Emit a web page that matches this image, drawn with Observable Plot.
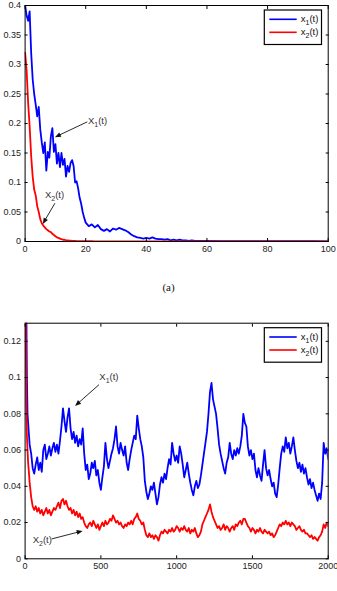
<!DOCTYPE html>
<html><head><meta charset="utf-8">
<script src="https://cdn.jsdelivr.net/npm/d3@7"></script>
<script src="https://cdn.jsdelivr.net/npm/@observablehq/plot@0.6"></script>
<style>
body{margin:0;background:#fff;width:337px;overflow:hidden}
.cap{font:11px "Liberation Serif","Times New Roman",serif;height:50px;line-height:50px;text-align:center;color:#111}
svg{display:block}
</style></head><body>
<div id="a"></div><div class="cap">(a)</div><div id="b"></div>
<script>
// ---- panel 1: t in [0, 100] ----
const tA = [
  0,0.5,1,1.5,2,2.5,3,3.5,4,4.5,5,5.5,6,6.5,7,7.5,8,8.5,9,9.5,
  10,10.5,11,11.5,12,12.5,13,13.5,14,14.5,15,15.5,16,16.5,17,17.5,18,18.5,19,19.5,
  20,21,22,23,24,25,26,27,28,29,30,31,32,33,34,35,36,37,38,39,
  40,41,42,43,44,45,46,47,48,49,50,51,52,53,54,55,56,57,58,59,
  60,65,70,75,80,85,90,95,100
];
const x1A = [
  .400,.383,.374,.390,.320,.275,.250,.232,.212,.228,.190,.168,.150,.168,.120,.152,.142,.178,.192,.152,
  .165,.132,.150,.126,.150,.130,.140,.110,.128,.118,.133,.138,.128,.100,.102,.090,.074,.064,.050,.040,
  .032,.026,.029,.024,.028,.021,.018,.021,.017,.022,.020,.023,.021,.019,.016,.012,.009,.007,.006,.005,
  .006,.005,.007,.005,.004,.004,.003,.004,.002,.003,.002,.003,.002,.002,.001,.002,.001,.001,.001,.001,
  .001,.0008,.0007,.0006,.0005,.0005,.0004,.0004,.0003
];
const x2A = [
  .320,.290,.235,.195,.145,.110,.088,.078,.060,.050,.038,.031,.027,.024,.021,.019,.017,.016,.013,.011,
  .009,.007,.006,.005,.004,.003,.003,.002,.002,.0015,.0015,.001,.001,.001,.0008,.0008,.0006,.0006,.0005,.0005,
  .0004,.0004,.0004,.0003,.0003,.0003,.0003,.0003,.0003,.0003,.0003,.0003,.0003,.0003,.0003,.0003,.0003,.0003,.0003,.0003,
  .0003,.0003,.0003,.0003,.0003,.0003,.0003,.0003,.0003,.0003,.0003,.0003,.0003,.0003,.0003,.0003,.0003,.0003,.0003,.0003,
  .0002,.0002,.0002,.0002,.0002,.0002,.0002,.0002,.0002
];
const xTicksA = [0, 20, 40, 60, 80, 100];
const yTicksA = [0, 0.05, 0.1, 0.15, 0.2, 0.25, 0.3, 0.35, 0.4];

// ---- panel 2: t in [0, 2000] ----
const tB = [0, 4, 8, 12, 16, 20, 25, 30, 40, 50].concat(d3.range(60, 2001, 10));
const x1B = [
  .400,.220,.140,.100,.080,.075,.069,.063,.058,.050,
  .047,.052,.056,.049,
  .053,.048,.060,.063,.055,.058,.062,.057,.061,.064,
  .059,.063,.058,.065,.073,.083,.076,.070,.078,.083,
  .072,.066,.070,.064,.068,.062,.066,.063,.072,.058,
  .049,.052,.044,.047,.053,.050,.054,.046,.049,.042,
  .038,.045,.051,.064,.055,.050,.054,.058,.061,.066,
  .073,.062,.058,.064,.060,.057,.062,.053,.049,.055,
  .060,.064,.068,.066,.079,.072,.066,.062,.056,.043,
  .037,.033,.036,.040,.038,.042,.036,.030,.034,.041,
  .045,.042,.047,.044,.050,.055,.052,.064,.058,.054,
  .057,.053,.062,.058,.052,.045,.049,.053,.047,.042,
  .038,.035,.040,.043,.039,.041,.046,.052,.058,.064,
  .070,.080,.092,.097,.088,.084,.080,.072,.063,.058,
  .054,.050,.047,.053,.056,.064,.058,.055,.060,.057,
  .061,.058,.062,.068,.080,.075,.073,.062,.057,.060,
  .055,.058,.049,.045,.050,.046,.043,.052,.060,.050,
  .046,.049,.044,.040,.042,.036,.034,.041,.050,.058,
  .062,.059,.067,.061,.064,.058,.062,.067,.060,.054,
  .050,.053,.048,.052,.047,.050,.045,.041,.044,.039,
  .042,.038,.035,.032,.036,.033,.042,.064,.058,.061,
  .055
];
const x2B = [
  .320,.130,.085,.068,.060,.053,.048,.042,.034,.029,
  .027,.029,.026,.028,
  .025,.027,.024,.026,.028,.025,.027,.024,.026,.028,
  .027,.029,.031,.028,.032,.033,.030,.032,.029,.027,
  .028,.025,.027,.024,.026,.023,.025,.022,.023,.020,
  .018,.017,.019,.020,.018,.021,.019,.017,.019,.016,
  .018,.020,.018,.021,.019,.020,.022,.021,.024,.022,
  .020,.021,.019,.020,.018,.017,.019,.018,.020,.019,
  .021,.019,.022,.023,.025,.022,.021,.019,.020,.016,
  .013,.012,.014,.012,.013,.011,.013,.012,.010,.013,
  .015,.014,.016,.015,.014,.016,.015,.017,.015,.016,
  .018,.017,.015,.017,.016,.018,.016,.015,.017,.014,
  .016,.015,.017,.014,.012,.013,.015,.019,.021,.023,
  .025,.027,.030,.026,.023,.021,.019,.017,.018,.016,
  .017,.019,.016,.018,.017,.015,.017,.018,.016,.019,
  .018,.020,.021,.019,.022,.022,.020,.018,.017,.015,
  .017,.016,.014,.016,.015,.017,.015,.014,.016,.015,
  .014,.015,.013,.014,.012,.013,.015,.017,.019,.018,
  .020,.019,.021,.019,.020,.018,.020,.019,.018,.016,
  .017,.018,.016,.015,.016,.014,.014,.013,.012,.013,
  .011,.012,.011,.010,.012,.013,.015,.019,.017,.020,
  .018
];
const xTicksB = [0, 500, 1000, 1500, 2000];
const yTicksB = [0, 0.02, 0.04, 0.06, 0.08, 0.1, 0.12];

// legend entries and curve annotations (annotation positions in data units)
const seriesNames = [["x", "1", "#0000ff"], ["x", "2", "#ff0000"]];
const notesA = [
  {sub: "1", at: [20.9, 0.198], from: [20.7, 0.202], to: [10.0, 0.176]},
  {sub: "2", at: [6.7, 0.073], from: [10.0, 0.064], to: [6.0, 0.029]}
];
const notesB = [
  {sub: "1", at: [493, 0.0985], from: [491, 0.0958], to: [333, 0.0841]},
  {sub: "2", at: [53, 0.0085], from: [179, 0.0107], to: [383, 0.0151]}
];

const fmt = d3.format("~g");

function panel({t, x1, x2, xDomain, yDomain, xTicks, yTicks, height, marginTop, marginBottom, notes}) {
  const s1 = t.map((ti, i) => ({t: ti, v: x1[i]}));
  const s2 = t.map((ti, i) => ({t: ti, v: x2[i]}));
  const plot = Plot.plot({
    width: 337, height, marginLeft: 24.6, marginRight: 9.3, marginTop, marginBottom,
    x: {domain: xDomain}, y: {domain: yDomain},
    style: {fontFamily: "'Liberation Sans', Arial, sans-serif", fontSize: "9px", color: "#222", background: "#fff", overflow: "visible"},
    marks: [
      Plot.line(s1, {x: "t", y: "v", stroke: "#0000ff", strokeWidth: 1.8, clip: true}),
      Plot.line(s2, {x: "t", y: "v", stroke: "#ff0000", strokeWidth: 1.8, clip: true}),
      Plot.axisX({ticks: xTicks, tickSize: -3, tickPadding: 7, tickFormat: fmt, label: null, stroke: "#000"}),
      Plot.axisX({ticks: xTicks, anchor: "top", tickSize: -3, tickFormat: () => "", label: null, stroke: "#000"}),
      Plot.axisY({ticks: yTicks, tickSize: -3, tickPadding: 7, tickFormat: fmt, label: null, stroke: "#000"}),
      Plot.axisY({ticks: yTicks, anchor: "right", tickSize: -3, tickFormat: () => "", label: null, stroke: "#000"}),
      Plot.frame({stroke: "#000"})
    ]
  });
  const sx = plot.scale("x"), sy = plot.scale("y");
  const svg = d3.select(plot);
  const right = 337 - 9.3, top = marginTop;

  // legend box in the upper right corner
  const bx = right - 6.2 - 57.2, by = top + 5;
  const g = svg.append("g").attr("font-family", "'Liberation Sans', Arial, sans-serif")
    .attr("text-anchor", "start").attr("fill", "#111");
  g.append("rect").attr("x", bx).attr("y", by).attr("width", 57.2).attr("height", 34.5)
    .attr("fill", "#fff").attr("stroke", "#000").attr("stroke-width", 1.2);
  seriesNames.forEach(([base, sub, color], i) => {
    const ly = by + 9.3 + i * 13;
    g.append("line").attr("x1", bx + 5).attr("x2", bx + 32.4).attr("y1", ly).attr("y2", ly)
      .attr("stroke", color).attr("stroke-width", 1.6);
    const tx = g.append("text").attr("x", bx + 36.5).attr("y", ly + 2.5).attr("font-size", 9.5);
    tx.append("tspan").text(base);
    tx.append("tspan").attr("dy", 3).attr("font-size", 7).text(sub);
    tx.append("tspan").attr("dy", -3).text("(t)");
  });

  // curve labels with arrows
  notes.forEach(n => {
    const [x0, y0] = [sx.apply(n.from[0]), sy.apply(n.from[1])];
    const [x3, y3] = [sx.apply(n.to[0]), sy.apply(n.to[1])];
    const dx = x3 - x0, dy = y3 - y0, L = Math.hypot(dx, dy), ux = dx / L, uy = dy / L;
    const hl = 6, hw = 2.4;
    g.append("line").attr("x1", x0).attr("y1", y0).attr("x2", x3 - ux * hl * 0.8).attr("y2", y3 - uy * hl * 0.8)
      .attr("stroke", "#111").attr("stroke-width", 0.9);
    g.append("path").attr("d", `M${x3},${y3}L${x3 - ux * hl - uy * hw},${y3 - uy * hl + ux * hw}L${x3 - ux * hl + uy * hw},${y3 - uy * hl - ux * hw}Z`)
      .attr("fill", "#111");
    const tx = g.append("text").attr("x", sx.apply(n.at[0])).attr("y", sy.apply(n.at[1])).attr("font-size", 9.5).attr("fill", "#333");
    tx.append("tspan").text("X");
    tx.append("tspan").attr("dy", 3).attr("font-size", 7).text(n.sub);
    tx.append("tspan").attr("dy", -3).text("(t)");
  });
  return plot;
}

document.getElementById("a").append(panel({
  t: tA, x1: x1A, x2: x2A, xDomain: [0, 100], yDomain: [0, 0.4],
  xTicks: xTicksA, yTicks: yTicksA, height: 262, marginTop: 5, marginBottom: 21, notes: notesA
}));
document.getElementById("b").append(panel({
  t: tB, x1: x1B, x2: x2B, xDomain: [0, 2000], yDomain: [0, 0.13],
  xTicks: xTicksB, yTicks: yTicksB, height: 279, marginTop: 10.7, marginBottom: 32.7, notes: notesB
}));
</script></body></html>
